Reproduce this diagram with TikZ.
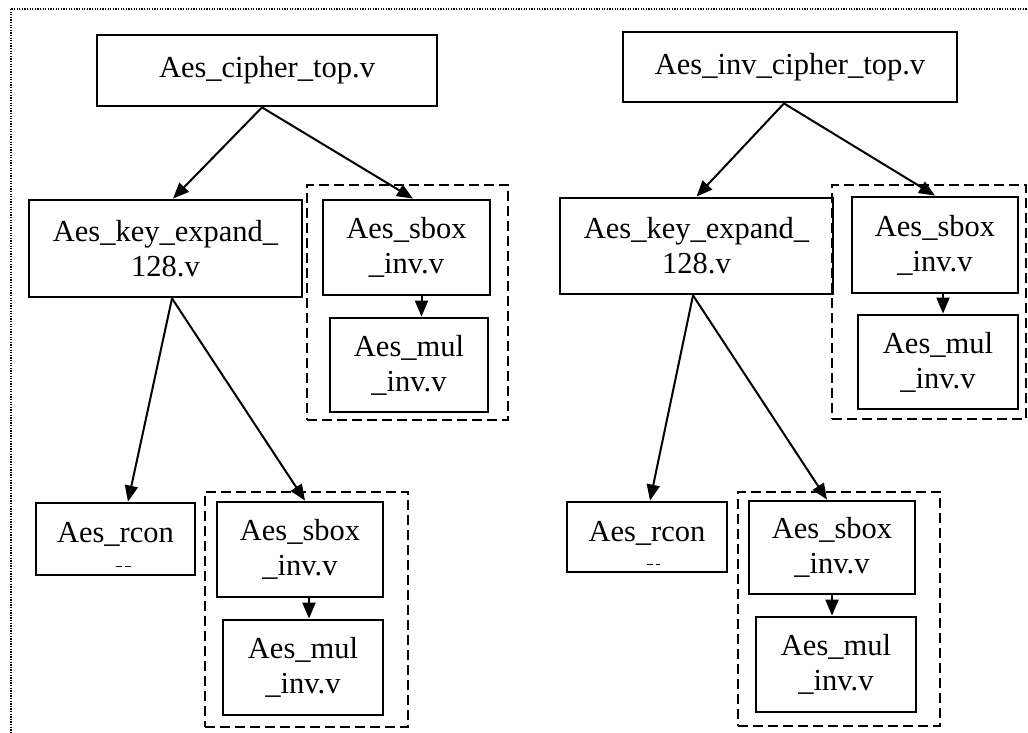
\documentclass[tikz,border=0pt]{standalone}
\usepackage{fontspec}
\setmainfont{Liberation Serif}
\usetikzlibrary{arrows.meta}
\begin{document}
\begin{tikzpicture}[x=1pt,y=-1pt,
  txt/.style={inner sep=0pt, align=center, font=\fontsize{30.5}{35}\selectfont},
  mod/.style={draw, line width=2.8pt, txt},
  grp/.style={draw, line width=2pt, dash pattern=on 10pt off 5pt, inner sep=0pt},
  link/.style={line width=2pt, -{Triangle[length=16pt,width=13pt]}},
  stub/.style={line width=1.3pt, dash pattern=on 6pt off 3pt},
  outline/.style={line width=2pt, dash pattern=on 1.3pt off 1.3pt}]
\clip (0,0) rectangle (1028,733);
\draw[outline] (11,9) rectangle (1060,760);

% left hierarchy: cipher
\node[mod, minimum width=340, minimum height=71] (top1) at (267,70.5) {Aes\_cipher\_top.v};
\node[mod, minimum width=273, minimum height=97] (kexp1) at (165.5,248.5) {Aes\_key\_expand\_\\128.v};
\node[grp, minimum width=201, minimum height=235] (grp1) at (407.5,302.5) {};
\node[mod, minimum width=167, minimum height=95] (sbox1) at (406.5,247.5) {Aes\_sbox\\\_inv.v};
\node[mod, minimum width=158, minimum height=94] (mul1) at (409,365) {Aes\_mul\\\_inv.v};
\node[mod, minimum width=159, minimum height=72] (rcon1) at (115.5,539) {};
\node[txt] (rcont1) at (115.5,534.6) {Aes\_rcon};
\draw[stub] ([shift={(0,-10)}]rcon1.south) -- ([shift={(15,-10)}]rcon1.south);
\node[grp, minimum width=203, minimum height=235] (grp2) at (306.5,609.5) {};
\node[mod, minimum width=166, minimum height=95] (sbox2) at (300,549.5) {Aes\_sbox\\\_inv.v};
\node[mod, minimum width=160, minimum height=95] (mul2) at (303,667.5) {Aes\_mul\\\_inv.v};

\draw[link] ([xshift=-5pt]top1.south) -- ([xshift=7.5pt]kexp1.north);
\draw[link] ([xshift=-5pt]top1.south) -- ([xshift=6.5pt]sbox1.north);
\draw[link] ([xshift=15pt]sbox1.south) -- ([xshift=12.5pt]mul1.north);
\draw[link] ([xshift=6.5pt]kexp1.south) -- ([xshift=12.5pt]rcon1.north);
\draw[link] ([xshift=6.5pt]kexp1.south) -- ([xshift=5pt]sbox2.north);
\draw[link] ([xshift=9pt]sbox2.south) -- ([xshift=6pt]mul2.north);

% right hierarchy: inverse cipher
\node[mod, minimum width=334, minimum height=70] (top2) at (790,67) {Aes\_inv\_cipher\_top.v};
\node[mod, minimum width=273, minimum height=96] (kexp2) at (696.5,246) {Aes\_key\_expand\_\\128.v};
\node[grp, minimum width=194, minimum height=234] (grp3) at (929,302) {};
\node[mod, minimum width=166, minimum height=96] (sbox3) at (935,245) {Aes\_sbox\\\_inv.v};
\node[mod, minimum width=160, minimum height=94] (mul3) at (938,362) {Aes\_mul\\\_inv.v};
\node[mod, minimum width=160, minimum height=70] (rcon2) at (647,537) {};
\node[txt] (rcont2) at (647,533.6) {Aes\_rcon};
\draw[stub] ([shift={(0,-9)}]rcon2.south) -- ([shift={(13,-9)}]rcon2.south);
\node[grp, minimum width=202, minimum height=234] (grp4) at (839,609) {};
\node[mod, minimum width=166, minimum height=93] (sbox4) at (832,547.5) {Aes\_sbox\\\_inv.v};
\node[mod, minimum width=160, minimum height=95] (mul4) at (836,664.5) {Aes\_mul\\\_inv.v};

\draw[link] ([xshift=-6pt]top2.south) -- (kexp2.north);
\draw[link] ([xshift=-6pt]top2.south) -- (sbox3.north);
\draw[link] ([xshift=8pt]sbox3.south) -- ([xshift=5pt]mul3.north);
\draw[link] ([xshift=-3.5pt]kexp2.south) -- ([xshift=3pt]rcon2.north);
\draw[link] ([xshift=-3.5pt]kexp2.south) -- ([xshift=-5pt]sbox4.north);
\draw[link] (sbox4.south) -- ([xshift=-4pt]mul4.north);
\end{tikzpicture}
\end{document}
